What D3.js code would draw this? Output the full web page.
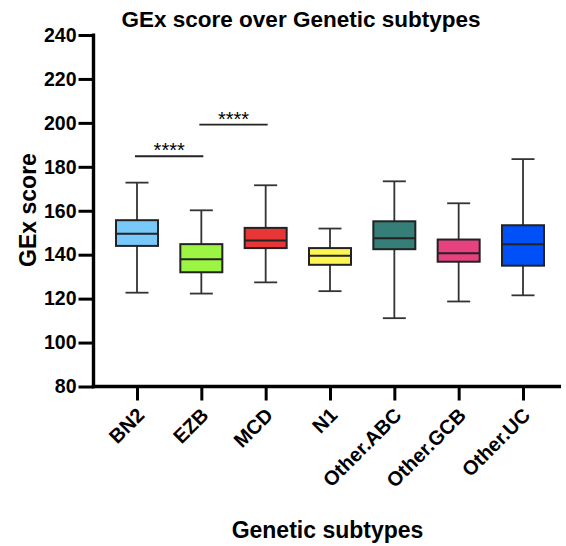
<!DOCTYPE html>
<html lang="en">
<head>
    <meta charset="utf-8">
    <title>GEx score over Genetic subtypes</title>
    <script src="https://d3js.org/d3.v7.min.js" charset="utf-8"></script>
    <style>
        body { margin: 0; background: #fff; }
        text { font-family: "Liberation Sans", Arial, sans-serif; }
    </style>
</head>
<body>
<svg/>
<script type="text/javascript">
    var subtypes = ["BN2", "EZB", "MCD", "N1", "Other.ABC", "Other.GCB", "Other.UC"];
    var whiskLow = [122.7, 122.3, 127.4, 123.4, 111.1, 118.7, 121.5];
    var q1       = [144.0, 132.0, 143.0, 135.4, 142.5, 136.8, 135.0];
    var median   = [149.5, 137.9, 146.5, 139.5, 147.5, 140.7, 144.7];
    var q3       = [155.7, 144.8, 152.2, 143.0, 155.2, 146.9, 153.4];
    var whiskHigh = [172.8, 160.2, 171.6, 151.9, 173.4, 163.4, 183.5];
    var colors = ["#78c8fa", "#9cf542", "#e83535", "#fdf552", "#367f78", "#e8417f", "#0050f7"];
    var yTicks = [80, 100, 120, 140, 160, 180, 200, 220, 240];
    // significance brackets: [from, to, y value, label]
    var sigPairs = [["BN2", "EZB", 184.8, "****"], ["EZB", "MCD", 199.2, "****"]];

    var W = 566, H = 546;
    var svg = d3.select("svg").attr("width", W).attr("height", H);

    var y = d3.scaleLinear().domain([80, 240]).range([386.5, 35]);
    var x = d3.scalePoint().domain(subtypes).range([137, 523]);
    var axisLeft = 93.5, axisRight = 561;

    // y axis
    var gy = svg.append("g").attr("transform", "translate(" + axisLeft + ",0)")
        .call(d3.axisLeft(y).tickValues(yTicks).tickSize(15).tickPadding(2).tickSizeOuter(0));
    gy.select(".domain").remove();
    gy.selectAll(".tick line").attr("stroke", "#000").attr("stroke-width", 3);
    gy.selectAll(".tick text").attr("font-size", "19.5px").attr("font-weight", "bold").attr("fill", "#000");
    svg.append("line").attr("x1", axisLeft).attr("x2", axisLeft)
        .attr("y1", y(240) - 1.5).attr("y2", y(80) + 1.7)
        .attr("stroke", "#000").attr("stroke-width", 3.4);

    // x axis
    var gx = svg.append("g").attr("transform", "translate(0," + y(80) + ")")
        .call(d3.axisBottom(x).tickSize(14).tickPadding(6).tickSizeOuter(0));
    gx.select(".domain").remove();
    gx.selectAll(".tick line").attr("stroke", "#000").attr("stroke-width", 3);
    gx.selectAll(".tick text")
        .attr("font-size", "20px").attr("font-weight", "bold").attr("fill", "#000")
        .attr("text-anchor", "end")
        .attr("x", 0).attr("y", 0).attr("dy", "0")
        .attr("transform", "translate(8,30) rotate(-45)");
    svg.append("line").attr("x1", axisLeft - 1.7).attr("x2", axisRight)
        .attr("y1", y(80)).attr("y2", y(80))
        .attr("stroke", "#000").attr("stroke-width", 3.4);

    // boxes
    var boxW = 42, capW = 23;
    var g = svg.append("g").selectAll("g.box").data(subtypes).enter().append("g").attr("class", "box");
    g.append("line")
        .attr("x1", function (d) { return x(d); }).attr("x2", function (d) { return x(d); })
        .attr("y1", function (d, i) { return y(whiskHigh[i]); })
        .attr("y2", function (d, i) { return y(whiskLow[i]); })
        .attr("stroke", "#333").attr("stroke-width", 1.8);
    [whiskHigh, whiskLow].forEach(function (arr) {
        g.append("line")
            .attr("x1", function (d) { return x(d) - capW / 2; })
            .attr("x2", function (d) { return x(d) + capW / 2; })
            .attr("y1", function (d, i) { return y(arr[i]); })
            .attr("y2", function (d, i) { return y(arr[i]); })
            .attr("stroke", "#333").attr("stroke-width", 1.8);
    });
    g.append("rect")
        .attr("x", function (d) { return x(d) - boxW / 2; })
        .attr("y", function (d, i) { return y(q3[i]); })
        .attr("width", boxW)
        .attr("height", function (d, i) { return y(q1[i]) - y(q3[i]); })
        .attr("fill", function (d, i) { return colors[i]; })
        .attr("stroke", "#222").attr("stroke-width", 2);
    g.append("line")
        .attr("x1", function (d) { return x(d) - boxW / 2; })
        .attr("x2", function (d) { return x(d) + boxW / 2; })
        .attr("y1", function (d, i) { return y(median[i]); })
        .attr("y2", function (d, i) { return y(median[i]); })
        .attr("stroke", "#222").attr("stroke-width", 2);

    // significance
    var sg = svg.append("g").selectAll("g.sig").data(sigPairs).enter().append("g");
    sg.append("line")
        .attr("x1", function (d) { return x(d[0]) - 2; })
        .attr("x2", function (d) { return x(d[1]) + 2; })
        .attr("y1", function (d) { return y(d[2]); })
        .attr("y2", function (d) { return y(d[2]); })
        .attr("stroke", "#222").attr("stroke-width", 1.8);
    sg.append("text")
        .attr("x", function (d) { return (x(d[0]) + x(d[1])) / 2; })
        .attr("y", function (d) { return y(d[2]) + 1; })
        .attr("text-anchor", "middle")
        .attr("font-size", "20px").attr("fill", "#000")
        .text(function (d) { return d[3]; });

    // titles
    svg.append("text").attr("x", 301).attr("y", 26.5).attr("text-anchor", "middle")
        .attr("font-size", "22.5px").attr("font-weight", "bold").text("GEx score over Genetic subtypes");
    svg.append("text").attr("transform", "translate(36,210) rotate(-90)").attr("text-anchor", "middle")
        .attr("font-size", "23px").attr("font-weight", "bold").text("GEx score");
    svg.append("text").attr("x", 327.5).attr("y", 538).attr("text-anchor", "middle")
        .attr("font-size", "23px").attr("font-weight", "bold").text("Genetic subtypes");
</script>
</body>
</html>
